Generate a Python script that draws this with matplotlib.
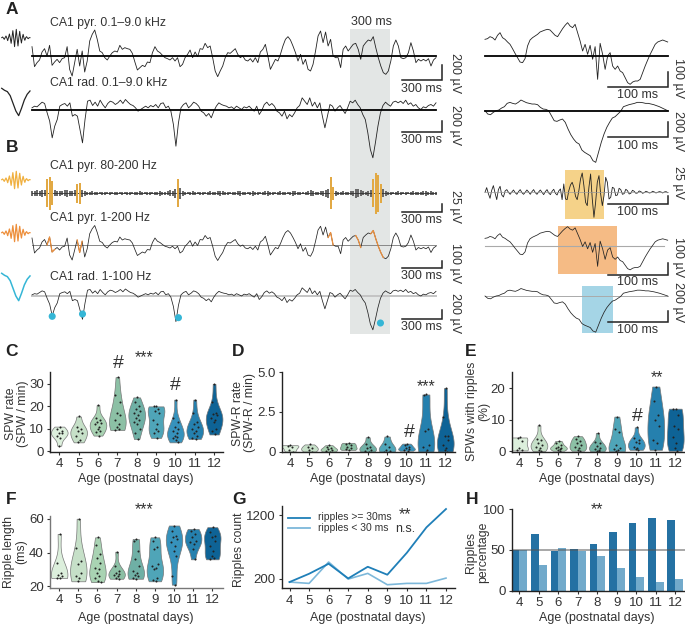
import matplotlib
matplotlib.use("Agg")
import matplotlib.pyplot as plt
from matplotlib.patches import Rectangle

plt.rcParams["font.family"] = ["Liberation Sans", "DejaVu Sans"]

# --- trace data (1 unit = 1/3 px of the original) ---
pyr_wide = [28, -32, -20, -12, 12, 22, 0, 32, -28, -18, -10, -20, -8, -5, 28, -40, -60, -20, 20, -30,
            15, -48, -15, 45, 65, 78, 50, 15, 10, -5, -12, 0, 10, 15, 12, 32, 20, 25, 22, 20,
            8, -18, -42, -35, -28, -32, -18, -20, 10, 28, 15, 10, 2, -5, -8, -12, -5, -15, -5, -32,
            -25, -5, 5, 18, -5, 12, -2, 22, 20, 38, 25, 30, -5, -45, -62, -45, -30, -5, 10, 8,
            15, 22, 5, -5, 0, -12, -15, -8, -18, -5, -20, 12, 20, 35, 0, -40, -25, -10, -15, 5,
            30, 50, 58, 48, 30, 10, -15, 5, -25, -10, -40, -45, -25, 15, 60, 75, 40, 72, 30, 50,
            0, -5, -5, -35, 20, 30, 15, 25, 35, 38, 20, -10, 30, 40, 48, 45, 58, 25, -5, -30,
            -50, -55, -45, -15, 30, 48, 30, -5, -8, -5, 10, 40, 15, -20, -10, -15, -10, -15, -8, -30,
            -12, -5]
rad_wide = [5, 10, 8, 15, 22, 18, -10, -35, -85, -50, -30, 10, 15, 18, 10, 20, -20, -15, -20, -60,
            -100, -30, 25, 28, 12, 22, 10, 28, 15, 5, 18, 25, 22, 15, 20, 28, 18, 30, 22, 15,
            12, 5, -5, 0, 5, 10, 5, 12, 8, 15, 5, 18, 20, 5, 10, -5, -45, -110, -40, 5, 15, 20,
            5, 12, 22, 18, 10, -5, -10, -20, -12, -25, -5, 10, 20, 15, 12, 10, 5, 8, 2, 10, 5, 0,
            8, 5, 10, 2, -5, 10, -15, -3, 15, 22, 12, 18, 10, -5, -10, -20, -5, -28, -15, -22, -10,
            5, 12, 35, 25, 15, 35, 10, 22, 5, 20, -20, -55, -20, 15, 10, -5, 5, 12, 0, -12, 5, 25, 20,
            28, 15, 5, -15, -30, -70, -120, -145, -100, -50, -10, 12, 22, 15, 10, 22, 25, 20, 25, 18,
            28, 15, 20, 10, 15, 5, 0, 8, 5, 12, 15, 10, 20]
ripple_env = [8, 7, 9, 8, 10, 9, 42, 50, 36, 9, 7, 8, 6, 9, 10, 8, 7, 9, 28, 32, 10, 7, 5, 4, 6, 4, 5, 3, 5, 4,
              3, 5, 3, 4, 5, 3, 4, 3, 5, 4, 3, 5, 4, 6, 4, 3, 5, 4, 3, 4, 5, 7, 5, 4, 6, 9, 8, 14, 42, 16,
              8, 5, 3, 4, 6, 4, 3, 5, 4, 3, 4, 6, 5, 4, 6, 8, 6, 5, 4, 3, 5, 4, 6, 8, 5, 4, 3, 5, 7, 5,
              4, 3, 4, 6, 7, 5, 4, 3, 5, 6, 5, 4, 3, 5, 7, 6, 5, 4, 3, 5, 6, 9, 7, 5, 4, 6, 8, 10, 14, 48,
              20, 8, 5, 4, 6, 4, 5, 6, 8, 14, 12, 9, 6, 5, 7, 10, 42, 62, 55, 28, 12, 8, 5, 4, 3, 4, 6, 4,
              3, 4, 3, 5, 6, 5, 4, 5, 6, 7, 5, 6, 5, 4]
burst_idx = [6, 7, 8, 18, 19, 58, 119, 120, 136, 137, 138, 139]
orange_runs = [(6, 10), (18, 21), (118, 121), (129, 132), (135, 141)]
spw_idx = [8, 20, 58, 138]
spw_dots = [-61, -54, -65, -81]

zoom_pyr = [50, 52, 58, 55, 48, 62, 70, 55, 50, 42, 35, 22, 8, -5, -18, -20, -8, 30, 48, 55, 60, 65, 72, 75, 78, 80,
            78, 70, 62, 58, 70, 82, 92, 100, 90, 85, 95, 70, 45, 15, 35, 5, 32, -10, 28, -70, 38, 5, -40, 0, 10, -30,
            -40, -30, -45, -50, -65, -80, -85, -78, -75, -75, -70, -50, -30, -12, 5, 20, 35, 42, 45, 48, 45, 42]
zoom_rad = [0, -10, -12, -5, 0, 2, 8, 12, 22, 25, 22, 20, 25, 32, 28, 24, 22, 20, 20, 18, 10, 5, 4, 0, -15, -30,
            -32, -28, -25, -35, -55, -72, -85, -95, -100, -118, -125, -130, -135, -150, -155, -125, -95, -70, -50, -35, -22, -18, -10, -2, 12, 15, 18, 20,
            22, 25, 25, 24, 22, 22, 20, 18, 15, 12, 8, 4, 0]
zoom_rip = [0, 14, -4, -18, 6, 20, -2, -22, 8, 18, -8, -14, 4, 8, 0, -6, 1, 7, -1, -6, 2, 8, -1, -6, 0, 7, 1, -6, 2, 8,
            -1, -6, 1, 7, 0, -7, 2, 8, -2, -7, 3, 9, -3, -8, 4, 10, -22, 25, -20, -22, 5, 22, 30, 15, -12, -22, 5, 40, 58, 20,
            -30, -40, 15, 55, -20, -75, -30, 30, 50, -5, -40, -10, 45, 30, -20, -15, 15, 12, -10, -8, 12, 8, -6, -4, 9, 5, -5, -3, 6, 3,
            -3, -2, 4, 2, -3, -1, 3, 1, -2, -1, 3, 1, -2, 0, 2, 1, -2, 1, 2, -1]
ripple_avg = [1, 3, 0, -4, 1, 6, 0, -8, 2, 12, 0, -16, 2, 22, 0, -26, 2, 26, -1, -24, 1, 20, 0, -15, 1, 11, 0, -7, 1, 4,
              0, -2, 1, 1]
spw_avg = [0, -6, -10, -22, -45, -68, -82, -60, -35, -18, -8]

# --- panel data ---
ages = [4, 5, 6, 7, 8, 9, 10, 11, 12]
spw_rate = [[11, 10, 9, 8, 8, 7, 6, 2.5], [15.5, 11, 10, 9, 8, 7, 5, 4],
            [20.5, 15, 14, 13, 12.5, 12, 11, 10, 9, 8.5, 7], [33, 25, 22, 17, 16, 14, 12, 11, 10, 9.5],
            [24, 22, 20, 19, 18, 17, 16, 15, 14, 13, 12, 10, 8, 5.5], [20, 20, 19, 18, 17, 14, 12, 10, 9, 8, 6],
            [23, 15, 13, 11, 10, 9, 8, 7, 6.5, 6, 5, 4], [23, 17, 13, 12, 11, 10, 9, 8, 7, 6, 5.5],
            [30, 22, 17, 16.5, 16, 15, 14, 13, 10, 9, 7.5]]
spwr_rate = [[.4, .35, .3, .1, 0], [.45, .3, .2, .1, 0], [.4, .3, .2, .15, .1, .05, 0],
             [.55, .5, .4, .3, .2, .15, .1], [.9, .45, .3, .2, .1, .05, 0], [.95, .5, .3, .1, .05, 0],
             [.5, .4, .3, .2, .15, .1, .05], [3.6, 3.55, 1.4, 1.3, .4, .3, .1, 0],
             [4.0, 2.2, 1.0, .95, .7, .4, .2, .1, 0]]
spw_ripples = [[4.4, 4.2, 3.2, 1, .5, .3], [8.2, 4, 3.5, 2.5, 2, 1.5, 1, .5, .1], [3.3, 2.8, 2, 1.5, 1.2, 1, .8, .5, .2],
               [4.8, 4, 3.2, 2.8, 2, 1.5, 1, .5, .2], [5.8, 3, 2.5, 1.8, 1.2, .8, .5, .2, 0],
               [11, 7, 6, 2, 1.2, .8, .3, 0], [7.6, 4.2, 3.5, 3, 2.5, 1.5, 1.2, .8, .5],
               [20.5, 15.8, 11.5, 10, 8, 3.5, 2.5, .5], [13.5, 13.4, 11.5, 8, 7, 4.5, 2.5, 1, .2]]
ripple_len = [[51, 34, 28, 27, 26, 25, 25], [60, 42.5, 35, 33.5, 28, 26, 25, 23],
              [49, 44.5, 39, 37, 34, 31, 30, 28, 26, 25, 23, 22.5], [40.5, 32, 29, 28, 27.5, 27, 26, 25, 24.5],
              [48, 47, 41, 36, 32, 29, 28, 27, 26, 25, 24.5], [49, 47, 43, 42, 33, 32, 31, 30, 25, 24, 23],
              [56, 53, 50, 49, 48, 46, 44, 41, 38, 26, 21], [54, 53, 51, 49, 47, 46, 45, 42, 36],
              [55, 52, 50, 49, 47, 44, 41, 38, 37, 36]]
jitter = [.02, -.1, .12, -.04, .15, -.14, .06, -.02, .1, -.12, .04, .16, -.07, .08]

count_long = [148, 278, 435, 205, 388, 263, 608, 1006, 1294]
count_short = [148, 127, 462, 195, 284, 106, 127, 127, 210]
pct_long = [50, 69, 48, 51, 57, 72, 83, 89, 86]
pct_short = [50, 31, 52, 49, 43, 28, 17, 11, 14]

violin_cols = ["#dcefdc", "#c6e0c8", "#a9d3b3", "#8cc0a5", "#6fb0a5", "#4fa5b8", "#3692bc", "#2580ae", "#0e6396"]
TXT = "#333333"
YEL, ORG, CYAN = "#f0b040", "#ed8f3c", "#35b6d6"
W, H = 685, 626

fig = plt.figure(figsize=(W / 100, H / 100), dpi=100, facecolor="white")

# overlay in pixel coordinates for traces, bars and labels
ov = fig.add_axes([0, 0, 1, 1], zorder=0)
ov.set_xlim(0, W)
ov.set_ylim(H, 0)
ov.axis("off")


def trace(vals, x0, x1, base, gain=1.0, shift=0.0, **kw):
    step = (x1 - x0) / (len(vals) - 1)
    xs = [x0 + i * step for i in range(len(vals))]
    ys = [base - (gain * v + shift) / 3 for v in vals]
    ov.plot(xs, ys, **kw)
    return xs, ys


def scale(x0, x1, y_h, y_top, ms, uv, ms_y, uv_y, uv_x):
    ov.plot([x0, x1, x1], [y_h, y_h, y_top], color="#222222", lw=1.1, solid_joinstyle="miter")
    ov.text((x0 + x1) / 2 - 0.5, ms_y, ms, ha="center", va="center", fontsize=9, color=TXT)
    ov.text(uv_x, uv_y, uv, ha="center", va="center", rotation=270, fontsize=9, color=TXT)


def box(x0, x1, y0, y1, col):
    ov.add_patch(Rectangle((x0, y0), x1 - x0, y1 - y0, facecolor=col, edgecolor="none", zorder=0))


# --- A, B main traces ---
LX0, LX1 = 32, 436
box(350, 390, 29, 334, "#e3e6e5")
ov.text(372, 22, "300 ms", ha="center", va="center", fontsize=9, color=TXT)

trace(pyr_wide, LX0, LX1, 56, color="#222222", lw=0.6)
ov.plot([LX0, LX1], [56, 56], color="black", lw=1.3)
trace(rad_wide, LX0, LX1, 109.5, color="#222222", lw=0.6)
ov.plot([LX0, LX1], [109.5, 109.5], color="black", lw=1.3)

step = (LX1 - LX0) / (len(ripple_env) - 1)
rip_x = [LX0 + i * step for i in range(len(ripple_env))]
ov.vlines(rip_x, [193.3 - e / 3 for e in ripple_env], [193.3 + e / 3 for e in ripple_env], color="#666666", lw=1.4)
ov.plot([LX0, LX1], [193.3, 193.3], color="#333333", lw=0.6)
ov.vlines([rip_x[i] for i in burst_idx], [193.3 - ripple_env[i] / 3 for i in burst_idx],
          [193.3 + ripple_env[i] / 3 for i in burst_idx], color=YEL, lw=1.3, zorder=3)

ov.plot([LX0, LX1], [245, 245], color="#888888", lw=0.7)
bx, by = trace(pyr_wide, LX0, LX1, 245, gain=0.75, color="#222222", lw=0.55)
for a, b in orange_runs:
    ov.plot(bx[a:b], by[a:b], color=ORG, lw=0.9, zorder=3)

ov.plot([LX0, LX1], [296, 296], color="#c4c4c4", lw=1.4)
cx, cy = trace(rad_wide, LX0, LX1, 296, gain=0.7, color="#222222", lw=0.55)
ov.scatter([cx[i] for i in spw_idx], [296 - d / 3 for d in spw_dots], s=26, color=CYAN, zorder=4, edgecolors="none")

# averaged waveforms on the far left
trace(ripple_avg, 1.7, 30, 38, color="#222222", lw=0.7)
trace(spw_avg, 1.7, 30, 88.3, color="#222222", lw=0.9)
trace(ripple_avg, 1.7, 30, 180, color=YEL, lw=0.9)
trace(ripple_avg, 1.7, 30, 233, color=ORG, lw=0.9)
trace(spw_avg, 1.7, 30, 273.3, color=CYAN, lw=1.1)

# --- right insets ---
RX0, RX1 = 485, 667.7
box(565, 604, 170, 219.3, "#f5d289")
box(557.7, 617.3, 226, 274, "#f5bb85")
box(581.7, 612.7, 286, 332.7, "#a5d5e6")
trace(zoom_pyr, RX0, RX1, 56, color="#222222", lw=0.6)
ov.plot([RX0, RX1], [56, 56], color="black", lw=1.3)
trace(zoom_rad, RX0, RX1, 110.7, color="#222222", lw=0.6)
ov.plot([RX0, RX1], [110.7, 110.7], color="black", lw=1.3)
trace(zoom_rip, RX0, RX1, 192.3, color="#222222", lw=0.6)
ov.plot([RX0, RX1], [192.3, 192.3], color="#999999", lw=0.5)
ov.plot([RX0, RX1 - 4], [246, 246], color="#aaaaaa", lw=0.8)
trace(zoom_pyr, RX0, RX1, 246, gain=0.7, shift=-12, color="#222222", lw=0.55)
ov.plot([RX0, RX1], [296, 296], color="#aaaaaa", lw=0.7)
trace(zoom_rad, RX0, RX1, 296, gain=0.7, color="#222222", lw=0.55)

# --- scale bars ---
scale(402, 442, 80, 65, "300 ms", "200 µV", 89, 73, 455)
scale(402, 442, 132.3, 120.7, "300 ms", "200 µV", 140, 125, 455)
scale(402, 442, 212.3, 204, "300 ms", "25 µV", 220, 206.7, 455)
scale(402, 442, 268.3, 261, "300 ms", "100 µV", 275.7, 263, 455)
scale(402, 442, 319, 310, "300 ms", "200 µV", 327, 313, 455)
scale(608, 668, 87.3, 72.3, "100 ms", "100 µV", 94.7, 78, 677.7)
scale(608, 668, 137, 122.3, "100 ms", "200 µV", 146, 130.7, 677.7)
scale(608, 668, 204, 196, "100 ms", "25 µV", 212, 183, 677.7)
scale(608, 668, 274.7, 263, "100 ms", "100 µV", 282, 256.7, 677.7)
scale(608, 668, 322, 311, "100 ms", "200 µV", 330, 301.7, 677.7)

trace_labels = ["CA1 pyr. 0.1–9.0 kHz", "CA1 rad. 0.1–9.0 kHz", "CA1 pyr. 80-200 Hz", "CA1 pyr. 1-200 Hz", "CA1 rad. 1-100 Hz"]
for lab, ly in zip(trace_labels, [23, 83, 165.6, 218, 277]):
    ov.text(50, ly, lab, ha="left", va="center", fontsize=8.8, color=TXT)

letters = ["A", "B", "C", "D", "E", "F", "G", "H"]
letter_xy = [(11.7, 10), (11.7, 148), (11.7, 351.7), (238.3, 351.7), (470.7, 351.7), (10.7, 500), (239, 500), (471.7, 500)]
for lab, (lx, ly) in zip(letters, letter_xy):
    ov.text(lx, ly, lab, ha="center", va="center", fontsize=12.5, fontweight="bold", color="#222222")


# --- stats panels ---
def panel(left, right, top, bottom, xlim, ylim, yticks, yticklabels=None, spine="#222222"):
    ax = fig.add_axes([left / W, 1 - bottom / H, (right - left) / W, (bottom - top) / H], zorder=2)
    ax.patch.set_alpha(0)
    ax.set_xlim(*xlim)
    ax.set_ylim(*ylim)
    ax.set_xticks(ages)
    ax.set_yticks(yticks)
    if yticklabels:
        ax.set_yticklabels(yticklabels)
    ax.tick_params(labelsize=9.5, length=2.5, width=0.8, pad=2, colors=TXT)
    ax.spines[["top", "right"]].set_visible(False)
    for s in ["left", "bottom"]:
        ax.spines[s].set_color(spine)
        ax.spines[s].set_linewidth(1.0)
    return ax


def violins(ax, groups, width=0.86):
    parts = ax.violinplot(groups, positions=ages, widths=width, showextrema=False)
    for body, col in zip(parts["bodies"], violin_cols):
        body.set_facecolor(col)
        body.set_edgecolor("#777777")
        body.set_linewidth(0.5)
        body.set_alpha(1)
    for age, g in zip(ages, groups):
        xs = [age + jitter[i % len(jitter)] for i in range(len(g))]
        ax.scatter(xs, g, s=2.2, color="#222222", zorder=3, linewidths=0)


ax_c = panel(50, 223, 372, 452, (3.52, 12.46), (-0.3, 35.3), [0, 10, 20, 30])
violins(ax_c, spw_rate)
ax_d = panel(282.3, 455, 372.3, 451.7, (3.6, 12.5), (-0.01, 5.0), [0, 2.5, 5.0], ["0", "2.5", "5.0"])
violins(ax_d, spwr_rate)
ax_e = panel(511.7, 685, 372.3, 451.7, (3.6, 12.5), (-0.1, 25), [0, 10, 20])
violins(ax_e, spw_ripples)
ax_f = panel(50, 223, 515.7, 587.7, (3.52, 12.56), (19.2, 61.8), [20, 40, 60], spine="#777777")
violins(ax_f, ripple_len)

ax_g = panel(281.7, 455, 505.7, 588.3, (3.6, 12.46), (50, 1346), [200, 1200])
ax_g.plot(ages, count_short, color="#7db8da", lw=1.2)
ax_g.plot(ages, count_long, color="#1f7fb8", lw=1.3)

ax_h = panel(511.7, 685, 509, 590.7, (3.6, 12.5), (0, 100), [0, 50, 100])
ax_h.bar([a - 0.2 for a in ages], pct_long, width=0.4, color="#2471a3")
ax_h.bar([a + 0.2 for a in ages], pct_short, width=0.4, color="#72aacb")
ax_h.axhline(50, color="#555555", lw=1.2, alpha=0.6)

# legend of G, kept as plain lines and text like the source figure
ov.plot([288, 310], [517.7, 517.7], color="#1f7fb8", lw=1.3)
ov.plot([288, 310], [528.3, 528.3], color="#7db8da", lw=1.3)
ov.text(317.7, 517.3, "ripples >= 30ms", ha="left", va="center", fontsize=7.4, color=TXT)
ov.text(317.7, 528, "ripples < 30 ms", ha="left", va="center", fontsize=7.4, color=TXT)
ov.text(405, 528.5, "n.s.", ha="center", va="center", fontsize=9, color=TXT)

# axis labels, written in page position like the assembled figure
for lx, ly in [(136, 479), (367.7, 479), (596.7, 479), (136, 617.7), (367.7, 617.7), (596.7, 617.7)]:
    ov.text(lx, ly, "Age (postnatal days)", ha="center", va="center", fontsize=9, color=TXT)

y_labels = ["SPW rate\n(SPW / min)", "SPW-R rate\n(SPW-R / min)", "SPWs with ripples\n(%)",
            "Ripple length\n(ms)", "Ripples count", "Ripples\npercentage"]
y_label_xy = [(16.7, 414), (244, 413), (478, 411.7), (15.3, 551.7), (239, 550), (477, 552.7)]
for lab, (lx, ly) in zip(y_labels, y_label_xy):
    ov.text(lx, ly, lab, ha="center", va="center", rotation=90, fontsize=8.8, color=TXT, linespacing=1.0,
            multialignment="center")

marks = [("***", 144, 358), ("#", 118.3, 364), ("#", 175.7, 386), ("***", 426, 387), ("#", 409, 432.7),
         ("**", 657.3, 378), ("#", 637.7, 416.7), ("***", 144, 510), ("**", 596.7, 510), ("**", 405, 515)]
for lab, mx, my in marks:
    ov.text(mx, my, lab, ha="center", va="center", fontsize=14 if lab == "#" else 11.5, color=TXT, zorder=5)

fig.savefig("out.png", dpi=100)
